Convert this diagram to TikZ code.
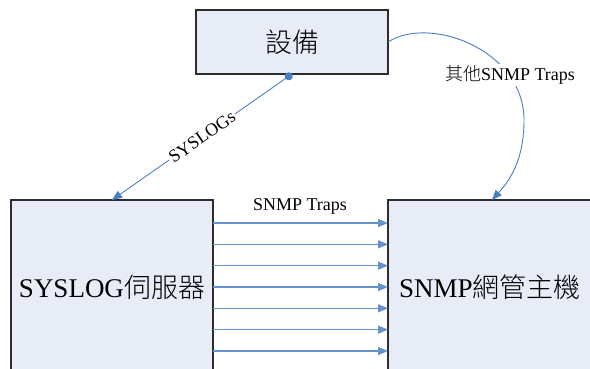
\documentclass[tikz,border=0pt]{standalone}
\usepackage{fontspec}
\setmainfont{Liberation Serif}
\newfontfamily\cjk{Noto Sans CJK TC}[UprightFont=* Light]
\usetikzlibrary{arrows.meta,calc}
\definecolor{boxfill}{RGB}{231,236,247}
\definecolor{boxline}{RGB}{45,45,45}
\definecolor{linkblue}{RGB}{74,126,195}
\tikzset{
  box/.style={draw=boxline, fill=boxfill, line width=1.4pt, rectangle,
    inner sep=0pt, outer sep=0pt, font=\fontsize{27}{30}\selectfont},
  link/.style={draw=linkblue, line width=0.9pt,
    -{Triangle[length=10pt,width=8pt]}},
  trap/.style={link, line width=1.3pt, draw=linkblue!85},
  tag/.style={font=\fontsize{18}{20}\selectfont, text=black, inner sep=1.5pt},
}
\begin{document}
\begin{tikzpicture}[x=1pt,y=-1pt]
\useasboundingbox (0,0) rectangle (590,369);
\clip (0,0) rectangle (590,369);
\fill[white] (0,0) rectangle (590,369);

% boxes
\node[box, minimum width=192pt, minimum height=64pt] (dev) at (292,42) {\cjk 設備};
\node[box, minimum width=202pt, minimum height=174pt] (syslog) at (112,287)
  {SYSLOG{\cjk 伺服器}};
\node[box, minimum width=204pt, minimum height=174pt] (snmp) at (490,287)
  {SNMP{\cjk 網管主機}};

% syslog forwarding from the device
\draw[link, {Circle[length=8pt]}-{Triangle[length=10pt,width=8pt]}]
  (dev.south) -- node[tag, sloped, fill=white, pos=0.5] {SYSLOGs} (syslog.north);

% traps relayed by the syslog server
\foreach \k in {-3,...,3}
  \draw[trap] ([yshift=\k*21.33pt]syslog.east) -- ([yshift=\k*21.33pt]snmp.west);
\node[tag] (traplabel) at (300,206) {SNMP Traps};

% other traps sent directly
\coordinate (turn) at (524,120);
\coordinate (snmpin) at (492,200);
\draw[link] (dev.east) .. controls (430,15) and (524,50) .. (turn)
  .. controls (524,160) and (510,180) .. (snmpin);
\node[tag, fill=white] (otherlabel) at (510,75) {{\cjk 其他}SNMP Traps};
\end{tikzpicture}
\end{document}
